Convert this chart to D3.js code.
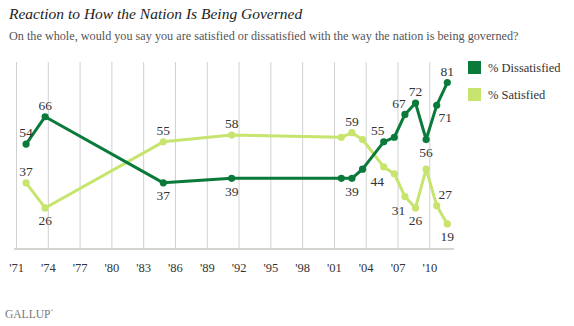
<!DOCTYPE html>
<html>
<head>
<meta charset="utf-8">
<script src="https://cdn.jsdelivr.net/npm/d3@7"></script>
<style>
  body { margin: 0; background: #fff; }
  svg { display: block; }
</style>
</head>
<body>
<div id="chart"></div>
<script>
const width = 574;
const height = 326;

// survey dates (decimal years) and results
const surveyDates = [1971.95, 1973.75, 1984.9, 1991.35, 2001.7, 2002.7, 2003.7, 2005.7, 2006.7, 2007.7, 2008.7, 2009.7, 2010.7, 2011.7];
const dissatisfied = [54, 66, 37, 39, 39, 39, 43, 55, 57, 67, 72, 56, 71, 81];
const satisfied = [37, 26, 55, 58, 57, 59, 56, 44, 41, 31, 26, 43, 27, 19];
const tickYears = [1971, 1974, 1977, 1980, 1983, 1986, 1989, 1992, 1995, 1998, 2001, 2004, 2007, 2010];
const tickLabels = ["'71", "'74", "'77", "'80", "'83", "'86", "'89", "'92", "'95", "'98", "'01", "'04", "'07", "'10"];

// where each value label sits relative to its point (null = no label)
const dissLabelPos = ['t', 't', 'b', 'b', null, 'b', null, 'tl', null, 'tl', 't', 'b', 'br', 't'];
const satLabelPos = ['t', 'b', 't', 't', null, 't', null, 'bl', null, 'bl', 'b', null, 'tr', 'b'];

const darkGreen = '#0a7a3b';
const lightGreen = '#c6e46e';
const serif = "Georgia, 'Liberation Serif', serif";

const plotLeft = 14, plotRight = 454, plotTop = 62, plotBottom = 249;

const x = d3.scaleLinear().domain([1971, 2010]).range([16, 429.3]);
const y = d3.scaleLinear().domain([8, 90]).range([plotBottom, plotTop]);

const svg = d3.select('#chart').append('svg')
    .attr('width', width)
    .attr('height', height);

// title + question
svg.append('text')
    .attr('x', 9).attr('y', 19)
    .attr('font-family', serif).attr('font-style', 'italic')
    .attr('font-size', 15.5).attr('fill', '#222')
    .text('Reaction to How the Nation Is Being Governed');

svg.append('text')
    .attr('x', 9).attr('y', 39.5)
    .attr('font-family', serif)
    .attr('font-size', 12.2).attr('fill', '#555')
    .text('On the whole, would you say you are satisfied or dissatisfied with the way the nation is being governed?');

// vertical gridlines
svg.append('g')
    .attr('transform', `translate(0,${plotBottom})`)
    .call(d3.axisBottom(x).tickValues(tickYears).tickSize(-(plotBottom - plotTop)).tickFormat(''))
    .call(g => g.select('.domain').remove())
    .call(g => g.selectAll('.tick line').attr('stroke', '#d0d0d0').attr('stroke-width', 1));

// baseline
svg.append('line')
    .attr('x1', plotLeft).attr('x2', plotRight)
    .attr('y1', plotBottom).attr('y2', plotBottom)
    .attr('stroke', '#d4d4d0').attr('stroke-width', 2);

// year labels
svg.append('g')
    .attr('transform', `translate(0,${plotBottom})`)
    .call(d3.axisBottom(x).tickValues(tickYears).tickSize(0).tickPadding(14)
        .tickFormat((d, i) => tickLabels[i]))
    .call(g => g.select('.domain').remove())
    .call(g => g.selectAll('text')
        .attr('font-family', serif).attr('font-size', 12.5).attr('fill', '#333'));

const offsets = {
    t: [0, -11.5], b: [0, 12.5],
    tl: [-6, -11.5], bl: [-6.5, 14],
    tr: [8.5, -11.5], br: [8.5, 11.5]
};

function drawSeries(values, colour, labelPos) {
    const pts = values.map((v, i) => ({ date: surveyDates[i], value: v, pos: labelPos[i] }));
    const line = d3.line().x(d => x(d.date)).y(d => y(d.value));
    const g = svg.append('g');

    g.append('path')
        .datum(pts)
        .attr('d', line)
        .attr('fill', 'none')
        .attr('stroke', colour)
        .attr('stroke-width', 3)
        .attr('stroke-linejoin', 'round');

    g.selectAll('circle')
        .data(pts)
        .enter()
        .append('circle')
        .attr('cx', d => x(d.date))
        .attr('cy', d => y(d.value))
        .attr('r', 3.6)
        .attr('fill', colour);

    g.selectAll('.val')
        .data(pts.filter(d => d.pos))
        .enter()
        .append('text')
        .attr('class', 'val')
        .attr('x', d => x(d.date) + offsets[d.pos][0])
        .attr('y', d => y(d.value) + offsets[d.pos][1])
        .attr('dy', '0.35em')
        .attr('text-anchor', 'middle')
        .attr('font-family', serif)
        .attr('font-size', 13.5)
        .attr('fill', '#333')
        .text(d => d.value);
}

drawSeries(satisfied, lightGreen, satLabelPos);
drawSeries(dissatisfied, darkGreen, dissLabelPos);

// legend
const legend = [
    { name: '% Dissatisfied', colour: darkGreen },
    { name: '% Satisfied', colour: lightGreen }
];
const lg = svg.selectAll('.legend')
    .data(legend)
    .enter()
    .append('g')
    .attr('class', 'legend')
    .attr('transform', (d, i) => `translate(468,${61 + i * 27})`);
lg.append('rect')
    .attr('width', 13).attr('height', 13)
    .attr('fill', d => d.colour);
lg.append('text')
    .attr('x', 20).attr('y', 6.5).attr('dy', '0.35em')
    .attr('font-family', serif).attr('font-size', 12.5).attr('fill', '#333')
    .text(d => d.name);

// logo
const logo = svg.append('text')
    .attr('x', 5).attr('y', 318)
    .attr('font-family', serif).attr('font-size', 11.5).attr('fill', '#777')
    .text('GALLUP');
logo.append('tspan')
    .attr('font-size', 4).attr('dy', -6)
    .text('®');
</script>
</body>
</html>
